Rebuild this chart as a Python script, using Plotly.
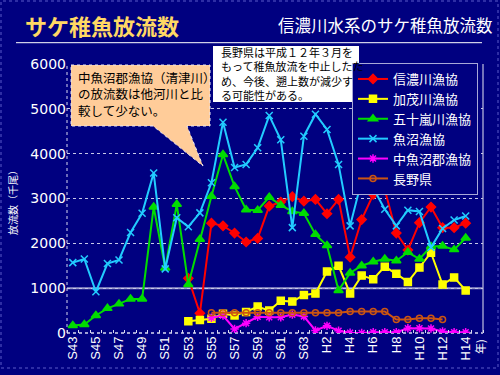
import plotly.graph_objects as go

# ---------------- data ----------------
years_all = list(range(1968, 2003))          # S43 .. H14
years_78 = list(range(1978, 2003))           # S53 .. H14
years_80 = list(range(1980, 2003))           # S55 .. H14
years_nagano = list(range(1980, 2001))       # S55 .. H12

shinano = [1220, 440, 2450, 2390, 2230, 2030, 2110, 2830, 2920, 3040, 2940, 2980,
           2660, 2980, 1690, 2530, 3090, 3200, 2230, 1850, 2460, 2810, 2350, 2350, 2450]
kamo = [260, 290, 320, 430, 390, 470, 590, 500, 720, 700, 850, 880,
        1370, 1500, 880, 1280, 1200, 1480, 1320, 1140, 1460, 1790, 1080, 1240, 950]
igarashi = [170, 190, 390, 550, 650, 760, 760, 2810, 1450, 2870, 1080, 2090,
            3050, 3980, 3270, 2750, 2740, 3030, 2850, 2710, 2670, 2200, 1950, 950,
            1340, 1500, 1590, 1650, 1610, 1800, 1650, 1930, 1940, 1860, 2120]
uonuma = [1570, 1650, 920, 1550, 1630, 2240, 2670, 3570, 1430, 2570, 2370, 2680,
          3350, 4700, 3690, 3760, 4130, 4850, 4310, 2350, 4390, 4880, 4540, 3760,
          2390, 3400, 3230, 2760, 2390, 2740, 2710, 1910, 2330, 2520, 2610]
nakauonuma = [340, 390, 90, 220, 360, 350, 350, 410, 370, 56, 160, 50,
              5, 0, 18, 18, 18, 105, 105, 100, 35, 18, 18]
nagano = [450, 450, 450, 450, 450, 450, 450, 450, 450, 450, 450, 450,
          480, 480, 480, 480, 300, 300, 330, 330, 300]

tick_years = list(range(1968, 2003, 2))
tick_labels = ["S43", "S45", "S47", "S49", "S51", "S53", "S55", "S57", "S59", "S61",
               "S63", "H2", "H4", "H6", "H8", "H10", "H12", "H14"]

series = [
    ("信濃川漁協", years_78, shinano, "#FF0000", "diamond", 7),
    ("加茂川漁協", years_78, kamo, "#FFFF00", "square", 7),
    ("五十嵐川漁協", years_all, igarashi, "#00DD00", "triangle-up", 8),
    ("魚沼漁協", years_all, uonuma, "#22CCFF", "x-thin-open", 7),
    ("中魚沼郡漁協", years_80, nakauonuma, "#FF00FF", "asterisk-open", 7),
    ("長野県", years_nagano, nagano, "#CC5511", "circle-open", 6),
]

NAVY = "#000080"
CJK = "Noto Sans CJK JP"

# plot-area pixel geometry
L, R, T, B = 67, 483, 64, 333


def px(x):
    return (x - L) / (R - L)


def py(y):
    return (B - y) / (B - T)


fig = go.Figure()
for name, xs, ys, col, sym, sz in series:
    fig.add_trace(go.Scatter(
        x=xs, y=ys, name=name, mode="lines+markers",
        line=dict(color=col, width=2),
        marker=dict(color=col, symbol=sym, size=sz,
                    line=dict(color=col, width=1.5)),
    ))

shapes = [
    # outer dotted frame
    dict(type="rect", xref="paper", yref="paper", x0=px(1), x1=px(498), y0=py(368), y1=py(1),
         line=dict(color="#5a5ac8", width=1, dash="dot"), layer="below"),
    # line under title
    dict(type="line", xref="paper", yref="paper", x0=px(16), x1=px(482), y0=py(42.7), y1=py(42.7),
         line=dict(color="#ffffff", width=1)),
    # 1000 line (solid)
    dict(type="line", xref="paper", yref="y", x0=0, x1=1, y0=1000, y1=1000,
         line=dict(color="#9a9acc", width=2), layer="below"),
    # left / bottom dotted axes, right solid border
    dict(type="line", xref="paper", yref="paper", x0=0, x1=0, y0=0, y1=1,
         line=dict(color="#d8d8f0", width=1, dash="dot"), layer="below"),
    dict(type="line", xref="paper", yref="paper", x0=0, x1=1, y0=0, y1=0,
         line=dict(color="#d8d8f0", width=1.5, dash="dot"), layer="below"),
    dict(type="line", xref="paper", yref="paper", x0=1, x1=1, y0=0, y1=1,
         line=dict(color="#9a9acc", width=1.5), layer="below"),
    # white note box
    dict(type="rect", xref="paper", yref="paper", x0=px(213), x1=px(359), y0=py(102), y1=py(46),
         fillcolor="#ffffff", line=dict(width=0)),
    # speech bubble
    dict(type="path", xref="paper", yref="paper",
         path=(f"M {px(71)},{py(65)} L {px(210)},{py(65)} L {px(210)},{py(126)} "
               f"L {px(187)},{py(126)} L {px(203)},{py(166)} L {px(153)},{py(126)} "
               f"L {px(71)},{py(126)} Z"),
         fillcolor="#FFCC99", line=dict(color="#e8e8f8", width=1, dash="dot")),
]

note_text = "長野県は平成１２年３月を<br>もって稚魚放流を中止したた<br>め、今後、遡上数が減少す<br>る可能性がある。"
bubble_text = "中魚沼郡漁協（清津川）<br>の放流数は他河川と比<br>較して少ない。"

annotations = [
    dict(text="<b>サケ稚魚放流数</b>", x=px(23), y=py(25), xanchor="left", yanchor="middle",
         font=dict(family=CJK, size=22, color="#FFD864")),
    dict(text="信濃川水系のサケ稚魚放流数", x=px(495), y=py(25), xanchor="right", yanchor="middle",
         font=dict(family=CJK, size=16.5, color="#ffffff")),
    dict(text="放流数（千尾）", x=px(12), y=py(200), textangle=-90, xanchor="center", yanchor="middle",
         font=dict(family=CJK, size=10, color="#ffffff")),
    dict(text="年)", x=px(480), y=py(347), textangle=-90, xanchor="center", yanchor="middle",
         font=dict(family=CJK, size=11, color="#ffffff")),
    dict(text=note_text, x=px(219), y=py(73.5), xanchor="left", yanchor="middle", align="left",
         font=dict(family=CJK, size=11, color="#000000")),
    dict(text=bubble_text, x=px(76), y=py(94), xanchor="left", yanchor="middle", align="left",
         font=dict(family=CJK, size=12.5, color="#000000")),
]
for a in annotations:
    a.setdefault("xref", "paper")
    a.setdefault("yref", "paper")
    a["showarrow"] = False

fig.update_layout(
    width=500, height=375,
    margin=dict(l=L, r=500 - R, t=T, b=375 - B),
    paper_bgcolor=NAVY, plot_bgcolor=NAVY,
    showlegend=True,
    legend=dict(x=px(352), y=py(63), xanchor="left", yanchor="top",
                bgcolor=NAVY, bordercolor="#a8a8d8", borderwidth=1,
                font=dict(family=CJK, size=13, color="#ffffff"),
                itemwidth=30, tracegroupgap=0),
    shapes=shapes,
    annotations=annotations,
    xaxis=dict(range=[1967.5, 2003.5], tickmode="array", tickvals=tick_years, ticktext=tick_labels,
               tickangle=-90, tickfont=dict(family="Liberation Sans", size=13, color="#ffffff"),
               showgrid=False, zeroline=False, showline=False, ticks="",
               minor=dict(ticks="inside", tick0=1967.5, dtick=1, ticklen=3, tickcolor="#d8d8f0",
                          showgrid=False)),
    yaxis=dict(range=[0, 6000], tickvals=[0, 1000, 2000, 3000, 4000, 5000, 6000],
               tickfont=dict(family="DejaVu Sans", size=14, color="#ffffff"),
               showgrid=True, gridcolor="#c8c8e8", griddash="dot", gridwidth=1,
               zeroline=False, showline=False, ticks=""),
)

fig.write_html("out.html", config={"displayModeBar": False},
               post_script="document.body.style.margin='0';document.body.style.background='#000080';")
